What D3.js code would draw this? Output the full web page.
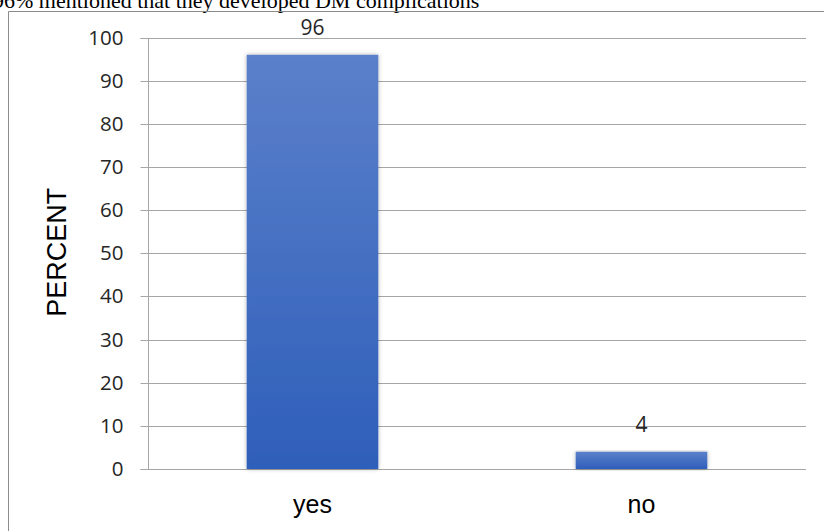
<!DOCTYPE html>
<html><head><meta charset="utf-8">
<script src="https://cdn.jsdelivr.net/npm/d3@7"></script>
<style>body{margin:0;background:#fff;}svg{display:block;}</style>
</head><body>
<script>
const categories = ["yes", "no"];
const values = [96, 4];
const yTicks = [0, 10, 20, 30, 40, 50, 60, 70, 80, 90, 100];
const yLabel = "PERCENT";
const caption = "96% mentioned that they developed DM complications";

(function(){
const W = 824, H = 531;
const svg = d3.select("body").append("svg").attr("width", W).attr("height", H);
const defs = svg.append("defs");
const grad = defs.append("linearGradient").attr("id","bg").attr("x1",0).attr("y1",0).attr("x2",0).attr("y2",1);
grad.append("stop").attr("offset","0%").attr("stop-color","#5b80ca");
grad.append("stop").attr("offset","100%").attr("stop-color","#2e5fba");
const f = defs.append("filter").attr("id","sh").attr("x","-10%").attr("y","-10%").attr("width","120%").attr("height","120%");
f.append("feDropShadow").attr("dx",0).attr("dy",0).attr("stdDeviation",2).attr("flood-color","#000").attr("flood-opacity",0.3);

// caption (cut at top, as in the source)
svg.append("text").attr("x", -7).attr("y", 8).attr("font-family","'Liberation Serif', serif")
  .attr("font-size", 22).attr("fill","#000").text(caption);

// frame
svg.append("path").attr("d", `M8.5,${H} V11.5 H${W}`).attr("fill","none").attr("stroke","#8c8c8c").attr("stroke-width",1);

const pL = 148, pR = 806, pT = 37.5, pB = 469;
const y = d3.scaleLinear().domain([0,100]).range([pB, pT]);
const x = d3.scaleBand().domain(categories).range([pL, pR]).paddingInner(0).paddingOuter(0);
const barFrac = 0.4;

// gridlines
svg.append("g").selectAll("line").data(yTicks).join("line")
  .attr("x1", pL).attr("x2", pR)
  .attr("y1", d => Math.round(y(d)) + 0.5).attr("y2", d => Math.round(y(d)) + 0.5)
  .attr("stroke", "#a6a6a6").attr("stroke-width", 1);

// y axis
const yAxis = d3.axisLeft(y).tickValues(yTicks).tickSize(8).tickPadding(17).tickFormat(d3.format("d"));
const gy = svg.append("g").attr("transform", `translate(${pL + 0.5},0)`).call(yAxis);
gy.select(".domain").attr("stroke","#a6a6a6").attr("d", `M-8,${Math.round(y(100))+0.5}H0V${Math.round(y(0))+0.5}H-8`);
gy.selectAll(".tick line").attr("stroke","#a6a6a6");
gy.selectAll(".tick").attr("transform", d => `translate(0,${Math.round(y(d))+0.5})`);
gy.selectAll(".tick text").attr("font-family","'Open Sans', sans-serif").attr("font-size", 20.5).attr("fill","#262626");

// bars
const bw = x.bandwidth() * barFrac;
svg.append("g").selectAll("rect").data(values).join("rect")
  .attr("x", (d,i) => x(categories[i]) + x.bandwidth()/2 - bw/2)
  .attr("y", d => y(d)).attr("width", bw).attr("height", d => y(0) - y(d))
  .attr("fill", "url(#bg)").attr("filter","url(#sh)");

// value labels
svg.append("g").selectAll("text").data(values).join("text")
  .attr("x", (d,i) => x(categories[i]) + x.bandwidth()/2)
  .attr("y", d => y(d) - 20)
  .attr("text-anchor","middle").attr("font-family","'Open Sans', sans-serif").attr("font-size",21).attr("fill","#262626")
  .text(d => d);

// category labels
svg.append("g").selectAll("text").data(categories).join("text")
  .attr("x", d => x(d) + x.bandwidth()/2).attr("y", 513)
  .attr("text-anchor","middle").attr("font-family","'Liberation Sans', Arial, sans-serif").attr("font-size",25).attr("fill","#000")
  .text(d => d);

// y label
svg.append("text").attr("transform", `translate(66,${(pT+pB)/2 - 1}) rotate(-90)`)
  .attr("text-anchor","middle").attr("font-family","'Liberation Sans', Arial, sans-serif").attr("font-size",27).attr("fill","#000")
  .text(yLabel);
})();
</script>
</body></html>
